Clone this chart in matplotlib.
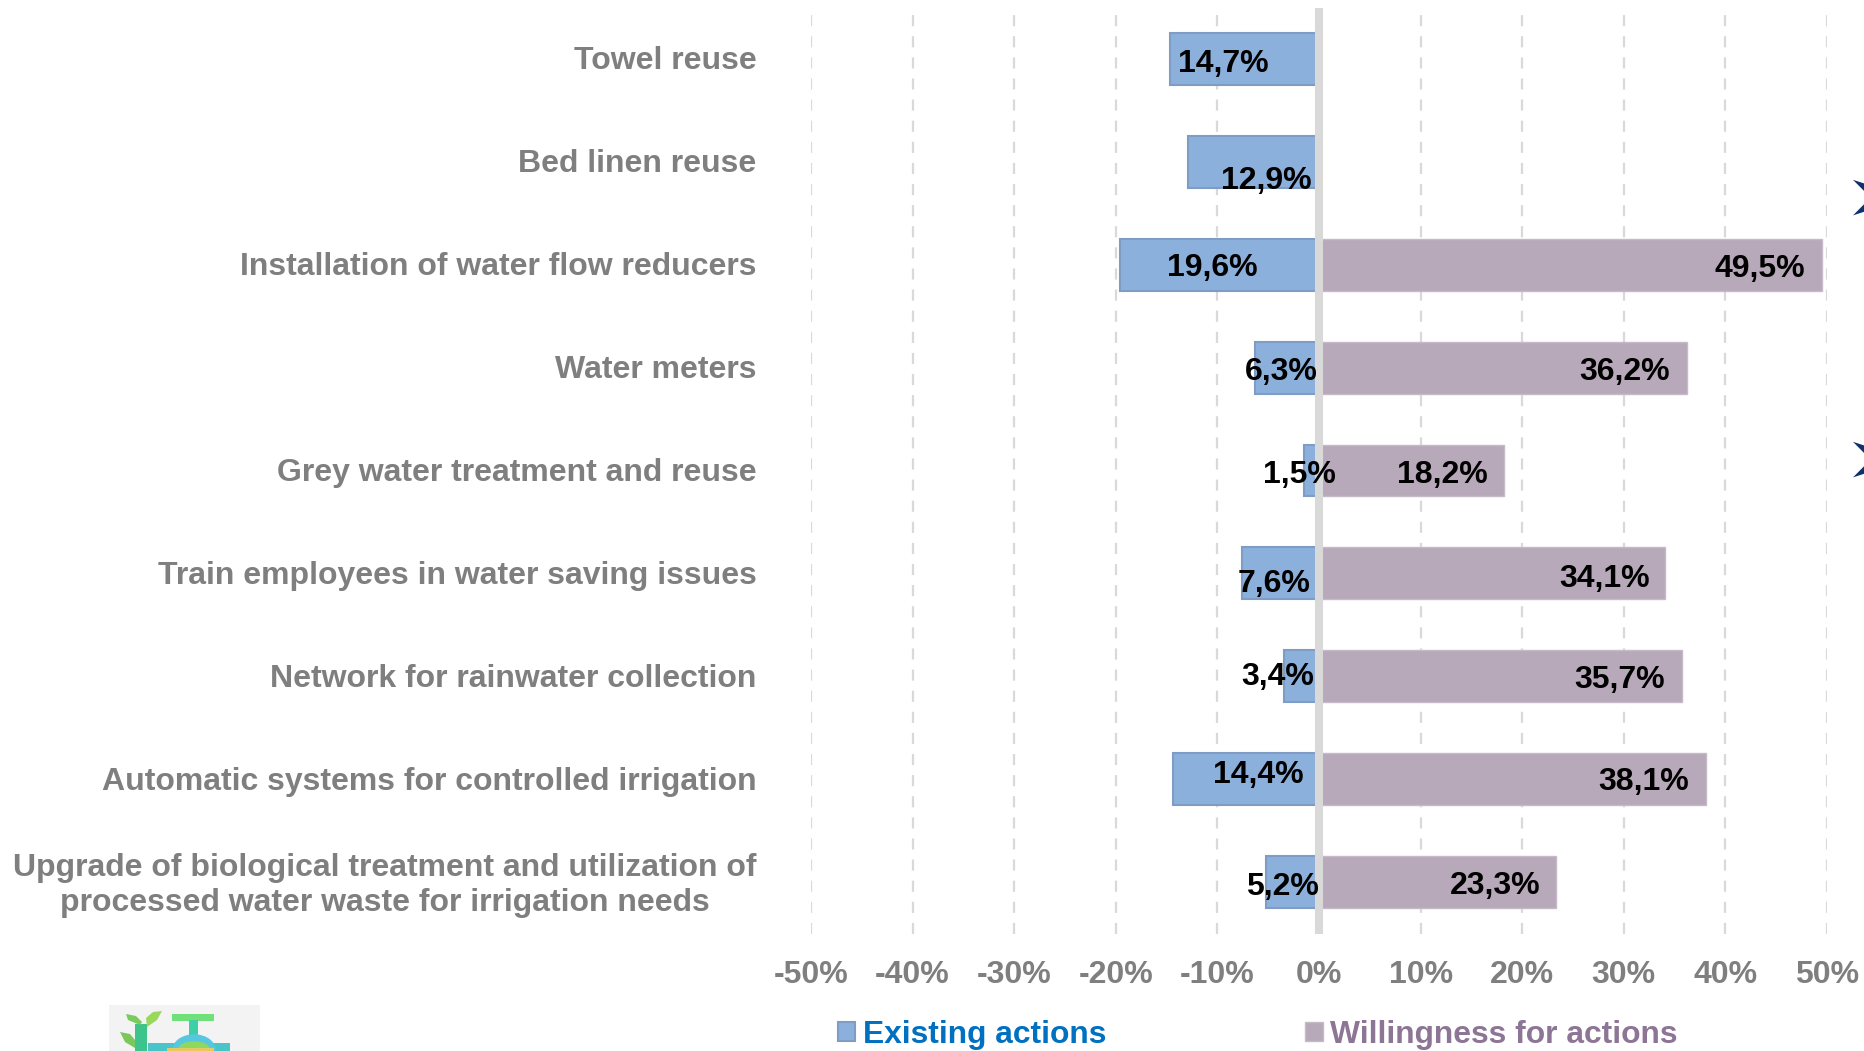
import matplotlib
matplotlib.use("Agg")

import matplotlib.pyplot as plt
from matplotlib.patches import Rectangle, Polygon, Ellipse

plt.rcParams['font.family'] = ['Liberation Sans', 'DejaVu Sans']
plt.rcParams['font.weight'] = 'bold'

categories = [
    "Towel reuse",
    "Bed linen reuse",
    "Installation of water flow reducers",
    "Water meters",
    "Grey water treatment and reuse",
    "Train employees in water saving issues",
    "Network for rainwater collection",
    "Automatic systems for controlled irrigation",
    "Upgrade of biological treatment and utilization of\nprocessed water waste for irrigation needs",
]
existing = [14.7, 12.9, 19.6, 6.3, 1.5, 7.6, 3.4, 14.4, 5.2]
willingness = [0, 0, 49.5, 36.2, 18.2, 34.1, 35.7, 38.1, 23.3]
x_ticks = [-50, -40, -30, -20, -10, 0, 10, 20, 30, 40, 50]

# hand placed data labels, the original has them dragged around
existing_label_x = [-9.4, -5.2, -10.5, -3.75, -1.9, -4.4, -4.1, -6.0, -3.6]
existing_label_dy = [0.05, 0.19, 0.03, 0.04, 0.04, 0.10, 0.01, -0.04, 0.05]
willingness_label_x = [0, 0, 43.4, 30.05, 12.15, 28.1, 29.6, 31.95, 17.3]
willingness_label_dy = [0, 0, 0.04, 0.04, 0.04, 0.05, 0.04, 0.03, 0.04]

W, H = 1865, 1051
GREY = "#7f7f7f"
BLUE = "#8cb0dc"
BLUE_EDGE = "#7f9cc4"
PURPLE = "#b8a9ba"
PURPLE_EDGE = "#c6bac8"

fig = plt.figure(figsize=(W / 100, H / 100), dpi=100)
ax = fig.add_axes([811 / W, 1 - 933.5 / H, (1827 - 811) / W, (933.5 - 7.5) / H])

ypos = list(range(len(categories)))
neg = [-v for v in existing]
b1 = ax.barh(ypos, neg, height=0.505, color=BLUE, edgecolor=BLUE_EDGE, linewidth=1.5, zorder=2)
b2 = ax.barh(ypos, willingness, height=0.505, color=PURPLE, edgecolor=PURPLE_EDGE, linewidth=1, zorder=2)

ax.set_xlim(-50, 50)
ax.set_ylim(len(categories) - 0.5, -0.5)
ax.xaxis.grid(True, color="#d9d9d9", linestyle=(0, (5, 4.5)), linewidth=1.6, zorder=0)
ax.set_axisbelow(True)
ax.axvline(0, color="#d9d9d9", linewidth=5.8, zorder=3)
for s in ax.spines.values():
    s.set_visible(False)

ax.set_xticks(x_ticks)
ax.set_xticklabels(["%d%%" % t for t in x_ticks], fontsize=23, color=GREY)
ax.set_yticks(ypos)
ax.set_yticklabels([])
ax.tick_params(axis='both', length=0)
ax.tick_params(axis='x', pad=19)

# category labels are centred line by line in the two line case
for y, c in zip(ypos, categories):
    if "\n" in c:
        ax.annotate(c, xy=(756.5 / W, 1 - (y * 102.9 + 62) / H), xycoords='figure fraction',
                    ha='right', va='center', multialignment='center',
                    fontsize=23.05, color=GREY, linespacing=1.2)
    else:
        ax.annotate(c, xy=(756.5 / W, 1 - (y * 102.9 + 61.4) / H), xycoords='figure fraction',
                    ha='right', va='center', fontsize=23.05, color=GREY)

for i, v in enumerate(existing):
    ax.text(existing_label_x[i], i + existing_label_dy[i], ("%.1f%%" % v).replace(".", ","),
            ha='center', va='center', fontsize=23, color="black", zorder=5)
for i, v in enumerate(willingness):
    if v > 0:
        ax.text(willingness_label_x[i], i + willingness_label_dy[i], ("%.1f%%" % v).replace(".", ","),
                ha='center', va='center', fontsize=23, color="black", zorder=5)

leg = fig.legend([b1, b2], ["Existing actions", "Willingness for actions"], ncol=2,
                 loc='center left', bbox_to_anchor=(838 / W, 1 - 1035 / H), frameon=False,
                 fontsize=22.9, handlelength=0.55, handleheight=0.55, handletextpad=0.24,
                 columnspacing=6.25, borderpad=0, borderaxespad=0)
leg.get_texts()[0].set_color("#0070c0")
leg.get_texts()[1].set_color("#8d7595")

# cut off bullets at the right edge of the slide
for yp in [201, 463]:
    fig.text(1843 / W, 1 - yp / H, "\u27a2", family=['DejaVu Sans'], fontsize=58,
             color="#10306f", ha='left', va='center', fontweight='normal')

# cropped logo at the bottom
def px(x, y):
    return (x / W, 1 - y / H)

def add_rect(x0, y0, x1, y1, color):
    fig.add_artist(Rectangle(px(x0, y1), (x1 - x0) / W, (y1 - y0) / H, color=color,
                             transform=fig.transFigure, linewidth=0))

def add_poly(points, color):
    fig.add_artist(Polygon([px(*p) for p in points], closed=True, color=color,
                           linewidth=0, transform=fig.transFigure))

add_rect(109, 1005, 260, 1051, "#f3f3f3")
# plant
add_rect(135, 1024, 147, 1051, "#3cc48c")
add_poly([(147, 1027), (146, 1018), (153, 1012), (162, 1011), (157, 1020)], "#9ad85c")
add_poly([(140, 1025), (128, 1020), (126, 1014), (136, 1016), (142, 1022)], "#7acb5a")
add_poly([(135, 1048), (125, 1042), (120, 1032), (130, 1034), (135, 1040)], "#7ac85a")
# tap
add_rect(148, 1043, 230, 1051, "#49c4c8")
add_rect(172, 1014, 214, 1021, "#6fe07a")
add_rect(189, 1020, 198, 1038, "#3fcfa8")
fig.add_artist(Ellipse(px(194, 1050), 42 / W, 30 / H, color="#55c8e0", transform=fig.transFigure))
fig.add_artist(Ellipse(px(194, 1049), 30 / W, 14 / H, color="#8fd860", transform=fig.transFigure))
add_rect(167, 1048, 214, 1051, "#e8c860")

fig.savefig("out.png", dpi=100)
